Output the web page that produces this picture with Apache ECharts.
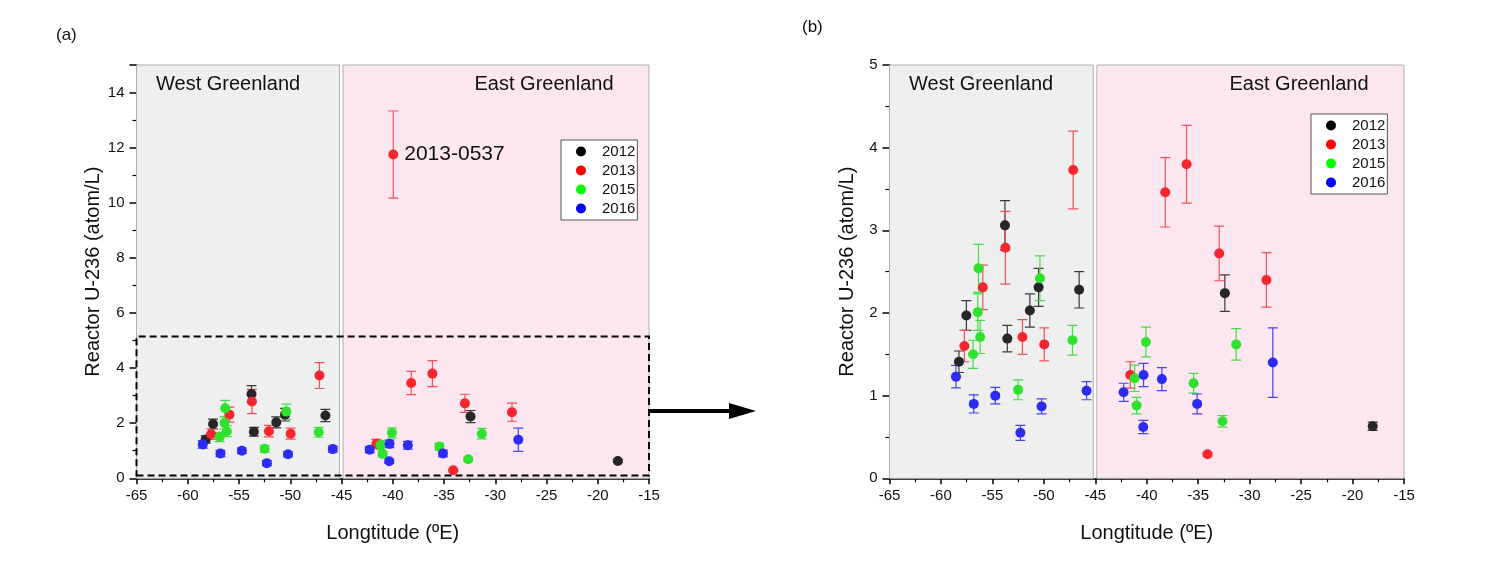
<!DOCTYPE html>
<html>
<head>
    <meta charset="UTF-8">
    <title></title>
    <style>
        body{margin:0;background:#fff;}
        #chart{width:1487px;height:571px;}
    </style>
</head>
<body>
<div id="chart"></div>
<script src="https://cdn.jsdelivr.net/npm/echarts@6/dist/echarts.min.js"></script>
<script>
    // 数据: [经度, 值, 误差]
    var years = ['2012', '2013', '2015', '2016'];
    var d2012 = [[-58.25,1.41,0.13],[-57.53,1.97,0.18],[-53.78,3.06,0.30],[-53.55,1.69,0.16],[-51.36,2.03,0.20],
        [-50.51,2.31,0.23],[-46.57,2.28,0.22],[-32.41,2.24,0.22],[-18.04,0.63,0.05]];
    var d2013 = [[-57.72,1.60,0.19],[-55.93,2.31,0.27],[-53.74,2.79,0.44],[-52.08,1.71,0.21],[-49.96,1.62,0.20],
        [-47.15,3.73,0.47],[-41.6,1.25,0.16],[-38.2,3.46,0.42],[-36.13,3.80,0.47],[-34.1,0.29,0.02],
        [-32.96,2.72,0.33],[-28.37,2.40,0.33]];
    var d2015 = [[-56.88,1.50,0.17],[-56.42,2.01,0.22],[-56.35,2.54,0.29],[-56.19,1.71,0.20],[-52.5,1.07,0.12],
        [-50.38,2.42,0.27],[-47.22,1.67,0.18],[-41.18,1.21,0.16],[-40.99,0.88,0.10],[-40.08,1.65,0.18],
        [-35.45,1.15,0.12],[-32.64,0.69,0.07],[-31.31,1.62,0.19]];
    var d2016 = [[-58.54,1.23,0.135],[-56.81,0.90,0.11],[-54.72,1.00,0.10],[-52.28,0.55,0.09],[-50.22,0.87,0.09],
        [-45.85,1.06,0.11],[-42.25,1.04,0.11],[-40.31,1.25,0.14],[-40.34,0.62,0.08],[-38.53,1.20,0.14],
        [-35.1,0.90,0.12],[-27.75,1.40,0.42]];
    var outlier = [-39.95, 11.75, 1.58];
    var outlierName = '2013-0537';
    var allData = [d2012, d2013, d2015, d2016];

    // x 轴范围和刻度
    var xMin = -65, xMax = -15, xStep = 5;
    var yMaxA = 15, yStepA = 2;
    var yMaxB = 5, yStepB = 1;
    // 区域范围
    var westRange = [-65, -45.2];
    var eastRange = [-44.85, -15];
    var zoomBox = [[-65, 0.1], [-15, 5.15]];

    var dotColors = ['#262626', '#f5262e', '#2ee22e', '#2b2bf2'];
    var barColors = ['#3a3a3a', '#f0505a', '#45dd45', '#4545ee'];
    var legendColors = ['#000', '#f00', '#0f0', '#00f'];
    var font = 'Arial, "Liberation Sans", sans-serif';

    var myChart = echarts.init(document.getElementById('chart'));

    function errRender(color){
        return function(params, api){
            var x = api.value(0), y = api.value(1), e = api.value(2);
            var top = api.coord([x, y + e]), bot = api.coord([x, y - e]);
            var hw = 5;
            var st = {stroke: color, lineWidth: 1.2, fill: null};
            return {type: 'group', children: [
                {type: 'line', shape: {x1: top[0], y1: top[1], x2: bot[0], y2: bot[1]}, style: st},
                {type: 'line', shape: {x1: top[0]-hw, y1: top[1], x2: top[0]+hw, y2: top[1]}, style: st},
                {type: 'line', shape: {x1: bot[0]-hw, y1: bot[1], x2: bot[0]+hw, y2: bot[1]}, style: st}
            ]};
        };
    }

    function xAxisCfg(idx){
        return {
            gridIndex: idx, type: 'value', min: xMin, max: xMax, interval: xStep,
            name: 'Longtitude (ºE)', nameLocation: 'middle', nameGap: 45,
            nameTextStyle: {fontSize: 20, color: '#111', fontFamily: font},
            axisLine: {show: true, onZero: false, lineStyle: {color: '#000', width: 1.5}},
            axisTick: {show: true, length: 6, lineStyle: {color: '#000', width: 1.5}},
            minorTick: {show: true, splitNumber: 2, length: 4, lineStyle: {color: '#000', width: 1.2}},
            axisLabel: {fontSize: 15, color: '#111', margin: 10, fontFamily: font},
            splitLine: {show: false}
        };
    }
    function yAxisCfg(idx, max, step){
        return {
            gridIndex: idx, type: 'value', min: 0, max: max, interval: step,
            name: 'Reactor U-236 (atom/L)', nameLocation: 'middle', nameGap: 32,
            nameTextStyle: {fontSize: 20, color: '#111', fontFamily: font},
            axisLine: {show: true, onZero: false, lineStyle: {color: '#000', width: 1.5}},
            axisTick: {show: true, length: 7, lineStyle: {color: '#000', width: 1.5}},
            minorTick: {show: true, splitNumber: 2, length: 4, lineStyle: {color: '#000', width: 1.2}},
            axisLabel: {fontSize: 15, color: '#111', margin: 12, fontFamily: font, showMaxLabel: max % step === 0},
            splitLine: {show: false}
        };
    }

    function bgSeries(idx, yMax){
        return {
            name: 'bg' + idx, type: 'scatter', xAxisIndex: idx, yAxisIndex: idx, data: [], z: 0, silent: true,
            markArea: {
                silent: true,
                label: {fontSize: 20, color: '#111', fontFamily: font},
                data: [
                    [{name: 'West Greenland', xAxis: westRange[0], yAxis: 0,
                        itemStyle: {color: '#efefef', borderColor: '#b0b0b0', borderWidth: 1},
                        label: {position: 'insideTopLeft', offset: [15, 5]}},
                     {xAxis: westRange[1], yAxis: yMax}],
                    [{name: 'East Greenland', xAxis: eastRange[0], yAxis: 0,
                        itemStyle: {color: '#fce7f0', borderColor: '#b0b0b0', borderWidth: 1},
                        label: {position: 'insideTopRight', offset: [-31, 5]}},
                     {xAxis: eastRange[1], yAxis: yMax}]
                ]
            }
        };
    }

    var series = [bgSeries(0, yMaxA), bgSeries(1, yMaxB)];
    // (a) 虚线框
    series.push({
        name: 'box', type: 'scatter', xAxisIndex: 0, yAxisIndex: 0, data: [], z: 1, silent: true,
        markArea: {silent: true, label: {show: false},
            itemStyle: {color: 'rgba(0,0,0,0)', borderColor: '#000', borderWidth: 2, borderType: [7, 4]},
            data: [[{xAxis: zoomBox[0][0], yAxis: zoomBox[0][1]}, {xAxis: zoomBox[1][0], yAxis: zoomBox[1][1]}]]}
    });

    for (var g = 0; g < 2; g++){
        for (var i = 0; i < years.length; i++){
            var pts = allData[i].slice();
            if (g === 0 && years[i] === '2013') pts.push(outlier);
            series.push({
                name: years[i] + ' err', type: 'custom', xAxisIndex: g, yAxisIndex: g, z: 3,
                renderItem: errRender(barColors[i]), encode: {x: 0, y: 1}, data: pts, clip: true, silent: true
            });
            var sd = pts.map(function(p){
                if (p === outlier) {
                    return {value: p, label: {show: true, formatter: outlierName, position: 'right', distance: 6,
                        fontSize: 21, color: '#111', fontFamily: font}};
                }
                return p;
            });
            series.push({
                name: years[i], type: 'scatter', xAxisIndex: g, yAxisIndex: g, z: 4,
                symbol: 'circle', symbolSize: 10, itemStyle: {color: dotColors[i], opacity: 1},
                data: sd, clip: true
            });
        }
    }

    var legendData = years.map(function(y, i){
        return {name: y, itemStyle: {color: legendColors[i]}};
    });
    function legendCfg(left, top){
        return {
            left: left, top: top, orient: 'vertical', data: legendData,
            icon: 'circle', itemWidth: 10, itemHeight: 10, itemGap: 4,
            padding: [4, 2, 4, 15], backgroundColor: '#fff', borderColor: '#555', borderWidth: 1,
            textStyle: {fontSize: 15, color: '#111', fontFamily: font, padding: [0, 0, 0, 11]}, selectedMode: false
        };
    }

    var option = {
        animation: false,
        textStyle: {fontFamily: font},
        title: [
            {text: '(a)', left: 51, top: 22, textStyle: {fontSize: 17, fontWeight: 'normal', color: '#111'}},
            {text: '(b)', left: 797, top: 14, textStyle: {fontSize: 17, fontWeight: 'normal', color: '#111'}}
        ],
        grid: [
            {left: 136.5, top: 65, width: 512.5, height: 413.3},
            {left: 889.5, top: 65, width: 514.5, height: 413.3}
        ],
        xAxis: [xAxisCfg(0), xAxisCfg(1)],
        yAxis: [yAxisCfg(0, yMaxA, yStepA), yAxisCfg(1, yMaxB, yStepB)],
        legend: [legendCfg(561, 140), legendCfg(1311, 114)],
        graphic: [
            {type: 'line', shape: {x1: 649, y1: 411, x2: 735, y2: 411}, style: {stroke: '#000', lineWidth: 4}},
            {type: 'polygon', shape: {points: [[729, 403], [756, 411], [729, 419]]}, style: {fill: '#000'}}
        ],
        series: series
    };
    myChart.setOption(option);
</script>
</body>
</html>
